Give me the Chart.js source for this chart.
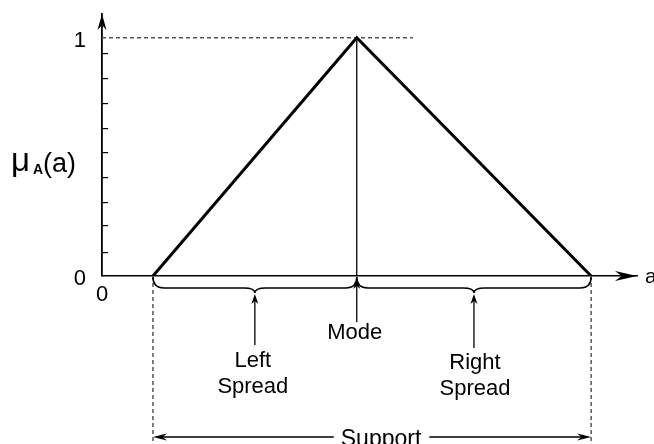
<!DOCTYPE html>
<html>
<head>
<meta charset="utf-8">
<script src="https://cdn.jsdelivr.net/npm/chart.js@4"></script>
<style>
  html, body { margin: 0; padding: 0; background: #fff; }
  #wrap { width: 654px; height: 444px; }
</style>
</head>
<body>
<div id="wrap"><canvas id="fuzzy"></canvas></div>
<script>
  // triangular membership function: support start, mode, support end
  const aPoints = [1, 5, 9.6];
  const muPoints = [0, 1, 0];
  const aMax = 10.5;
  const muMax = 1.1;
  const levelLineEnd = 6.1;
  const supportDrop = -0.7;
  const minorTicks = [0.1, 0.21, 0.31, 0.415, 0.52, 0.62, 0.725, 0.83, 0.935];
  const yTickLabels = [0, 1];
  const xTickLabels = [0];
  const leftText = ['Left', 'Spread'];
  const modeText = 'Mode';
  const rightText = ['Right', 'Spread'];
  const supportText = 'Support';

  const FONT = "'Liberation Sans', Arial, sans-serif";

  Chart.defaults.font.family = FONT
  Chart.defaults.color = '#000'

  function head(ctx, x, y, angle, len, half) {
    ctx.save();
    ctx.translate(x, y);
    ctx.rotate(angle);
    ctx.beginPath();
    ctx.moveTo(0, 0);
    ctx.lineTo(-len, half);
    ctx.lineTo(-len * 0.7, 0);
    ctx.lineTo(-len, -half);
    ctx.closePath();
    ctx.fill();
    ctx.restore();
  }

  function underBrace(ctx, x1, x2, y0) {
    const d = 11, tip = 5, r = 11, xm = (x1 + x2) / 2;
    ctx.beginPath();
    ctx.moveTo(x1, y0);
    ctx.quadraticCurveTo(x1, y0 + d, x1 + r, y0 + d);
    ctx.lineTo(xm - r, y0 + d);
    ctx.quadraticCurveTo(xm, y0 + d, xm, y0 + d + tip);
    ctx.quadraticCurveTo(xm, y0 + d, xm + r, y0 + d);
    ctx.lineTo(x2 - r, y0 + d);
    ctx.quadraticCurveTo(x2, y0 + d, x2, y0);
    ctx.stroke();
    return xm;
  }

  function upArrow(ctx, x, yTip, yEnd) {
    ctx.beginPath();
    ctx.moveTo(x, yEnd);
    ctx.lineTo(x, yTip + 4);
    ctx.stroke();
    head(ctx, x, yTip, -Math.PI / 2, 10, 3.5);
  }

  // drop the label overhang padding so the plot area sits where the layout says
  function noOverhang(s) {
    s.paddingTop = 0; s.paddingBottom = 0; s.paddingLeft = 0; s.paddingRight = 0;
  }

  const annotations = {
    id: 'annotations',
    afterDatasetsDraw(chart) {
      const {ctx, chartArea, scales: {x, y}} = chart;
      const x0 = y.right, y0 = x.top;
      const pL = x.getPixelForValue(aPoints[0]);
      const pM = x.getPixelForValue(aPoints[1]);
      const pR = x.getPixelForValue(aPoints[2]);
      ctx.save();
      ctx.fillStyle = '#000';
      ctx.strokeStyle = '#000';

      // axis arrow heads
      head(ctx, x0, chartArea.top, -Math.PI / 2, 16, 4.5);
      head(ctx, chartArea.right, y0, 0, 22, 5);

      // braces under the axis
      ctx.lineWidth = 1.5;
      const mL = underBrace(ctx, pL, pM, y0 + 1);
      const mR = underBrace(ctx, pM, pR, y0 + 1);

      // pointer arrows
      ctx.lineWidth = 1.3;
      upArrow(ctx, mL, y0 + 18, y0 + 69);
      upArrow(ctx, pM, y0 + 3, y0 + 46);
      upArrow(ctx, mR, y0 + 18, y0 + 72);

      // labels
      ctx.font = '22px ' + FONT;
      ctx.textAlign = 'center';
      ctx.textBaseline = 'alphabetic';
      ctx.fillText(modeText, pM - 2, y0 + 63);
      ctx.fillText(leftText[0], mL - 2, y0 + 91);
      ctx.fillText(leftText[1], mL - 2, y0 + 117);
      ctx.fillText(rightText[0], mR + 1, y0 + 93);
      ctx.fillText(rightText[1], mR + 1, y0 + 119);

      // support span
      const ys = 437;
      ctx.font = '23px ' + FONT;
      const tw = ctx.measureText(supportText).width;
      const tc = (pL + pR) / 2 + 9;
      ctx.fillText(supportText, tc, 446);
      ctx.lineWidth = 1.3;
      ctx.beginPath();
      ctx.moveTo(pL + 4, ys); ctx.lineTo(tc - tw / 2 - 7, ys);
      ctx.moveTo(tc + tw / 2 + 8, ys); ctx.lineTo(pR - 4, ys);
      ctx.stroke();
      head(ctx, pL, ys, Math.PI, 14, 3.5);
      head(ctx, pR, ys, 0, 14, 3.5);

      // axis names
      ctx.textAlign = 'left';
      ctx.font = '33px ' + FONT;
      ctx.fillText('\u03bc', 11, 171);
      ctx.font = 'bold 14px ' + FONT;
      ctx.fillText('A', 33, 174);
      ctx.font = '27px ' + FONT;
      ctx.fillText('(a)', 43, 172);
      ctx.font = '21px ' + FONT;
      ctx.fillText('a', 645, 283);
      ctx.restore();
    }
  };

  new Chart(document.getElementById('fuzzy'), {
    type: 'scatter',
    data: {
      datasets: [{
        data: aPoints.map((a, i) => ({x: a, y: muPoints[i]})),
        showLine: true,
        borderColor: '#000',
        borderWidth: 3,
        pointRadius: 0
      }, {
        data: [{x: aPoints[1], y: 0}, {x: aPoints[1], y: muPoints[1]}],
        showLine: true,
        borderColor: '#000',
        borderWidth: 1.3,
        pointRadius: 0
      }, {
        data: [{x: 0, y: muPoints[1]}, {x: levelLineEnd, y: muPoints[1]}],
        showLine: true,
        borderColor: '#555',
        borderWidth: 1.5,
        borderDash: [4, 3],
        pointRadius: 0
      }, {
        data: [{x: aPoints[0], y: 0}, {x: aPoints[0], y: supportDrop}],
        showLine: true,
        borderColor: '#555',
        borderWidth: 1.5,
        borderDash: [4, 3],
        pointRadius: 0,
        clip: false
      }, {
        data: [{x: aPoints[2], y: 0}, {x: aPoints[2], y: supportDrop}],
        showLine: true,
        borderColor: '#555',
        borderWidth: 1.5,
        borderDash: [4, 3],
        pointRadius: 0,
        clip: false
      }]
    },
    options: {
      responsive: true,
      maintainAspectRatio: false,
      animation: false,
      layout: { padding: { top: 14, right: 17, left: 0, bottom: 0 } },
      plugins: { legend: { display: false }, tooltip: { enabled: false } },
      scales: {
        x: {
          type: 'linear',
          min: 0,
          max: aMax,
          afterFit: s => { s.height = 168; noOverhang(s) },
          afterBuildTicks: s => { s.ticks = xTickLabels.map(v => ({value: v})) },
          ticks: { font: { size: 22 }, color: '#000', padding: -2 },
          grid: { display: false },
          border: { display: true, color: '#000', width: 1.5 }
        },
        y: {
          min: 0,
          max: muMax,
          afterFit: s => { s.width = 102; noOverhang(s) },
          afterBuildTicks: s => { s.ticks = [0, ...minorTicks, 1].map(v => ({value: v})) },
          ticks: {
            font: { size: 22 },
            color: '#000',
            padding: 22,
            autoSkip: false,
            labelOffset: 3,
            callback: v => yTickLabels.includes(v) ? String(v) : ''
          },
          grid: {
            drawOnChartArea: false,
            drawTicks: true,
            tickLength: -6,
            lineWidth: 1.2,
            color: c => (c.tick && yTickLabels.includes(c.tick.value)) ? 'rgba(0,0,0,0)' : '#000'
          },
          border: { display: true, color: '#000', width: 1.8 }
        }
      }
    },
    plugins: [annotations]
  });
</script>
</body>
</html>
